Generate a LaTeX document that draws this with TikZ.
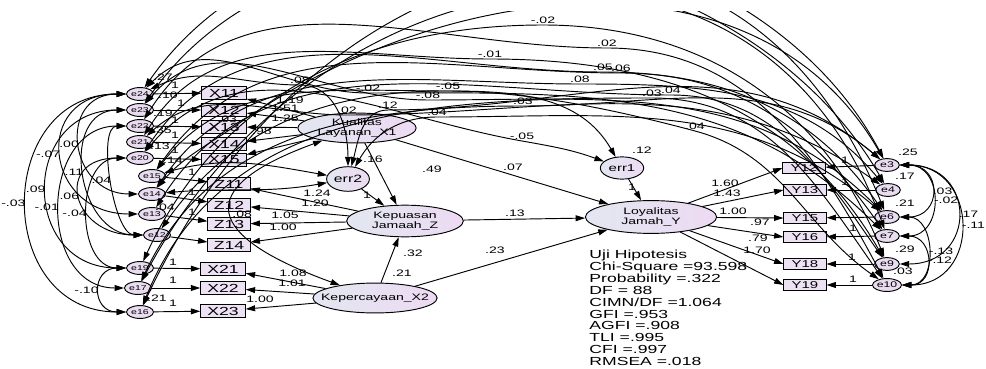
\documentclass[tikz,border=0pt]{standalone}
\usepackage{fontspec}
\setmainfont{Liberation Sans}[FakeStretch=1.5]
\usetikzlibrary{shapes.geometric,arrows.meta}
\definecolor{boxfill}{RGB}{236,226,244}
\definecolor{errfill}{RGB}{233,220,241}
\definecolor{latL}{RGB}{226,231,241}
\definecolor{latR}{RGB}{237,218,242}
\tikzset{
  obsbox/.style={draw, fill=boxfill, minimum width=38pt, minimum height=11pt, inner sep=0pt, font=\fontsize{10}{10}\selectfont},
  zbox/.style={obsbox, minimum width=36pt},
  ybox/.style={obsbox, minimum width=36pt, minimum height=10pt, font=\fontsize{8.5}{8.5}\selectfont},
  errl/.style={draw, ellipse, fill=errfill, minimum width=23pt, minimum height=11pt, inner sep=0pt, font=\fontsize{6}{6}\selectfont},
  errr/.style={errl, minimum width=21pt, font=\fontsize{7}{7}\selectfont},
  latent/.style={draw, ellipse, left color=latL, right color=latR, inner sep=0pt, align=center, font=\fontsize{8}{8.5}\selectfont},
  lbl/.style={inner sep=0.5pt, font=\fontsize{8}{8}\selectfont},
  reg/.style={->},
  cov/.style={<->}
}
\begin{document}
\begin{tikzpicture}[x=0.03cm, y=0.03cm, line width=0.8pt, >={Triangle[length=8pt,width=5pt]}]
\useasboundingbox (0,0) rectangle (986,-369);
\clip (0,-12) rectangle (986,-369);
% error terms, left
\node[errl] (e24) at (140,-94) {e24};
\node[errl] (e23) at (140,-110) {e23};
\node[errl] (e22) at (140,-126) {e22};
\node[errl] (e21) at (140,-142) {e21};
\node[errl] (e20) at (140,-158) {e20};
\node[errl] (e15) at (152,-176) {e15};
\node[errl] (e14) at (152,-194) {e14};
\node[errl] (e13) at (152,-214) {e13};
\node[errl] (e12) at (157,-235) {e12};
\node[errl] (e19) at (140,-268) {e19};
\node[errl] (e17) at (138,-288) {e17};
\node[errl] (e16) at (140,-312) {e16};
% indicators, left
\node[obsbox] (X11) at (224,-93) {X11};
\node[obsbox] (X12) at (224,-110) {X12};
\node[obsbox] (X13) at (224,-127) {X13};
\node[obsbox] (X14) at (224,-144) {X14};
\node[obsbox] (X15) at (224,-160) {X15};
\node[zbox] (Z11) at (229,-184) {Z11};
\node[zbox] (Z12) at (229,-205) {Z12};
\node[zbox] (Z13) at (229,-224) {Z13};
\node[zbox] (Z14) at (229,-245) {Z14};
\node[obsbox] (X21) at (223,-269) {X21};
\node[obsbox] (X22) at (223,-288) {X22};
\node[obsbox] (X23) at (223,-311) {X23};
% latent variables
\node[latent, minimum width=101pt, minimum height=25.5pt] (X1) at (357,-128) {\makebox[0pt]{Kualitas}\\\makebox[0pt]{Layanan\_X1}};
\node[latent, minimum width=36.5pt, minimum height=21pt, font=\fontsize{9}{9}\selectfont] (err2) at (348,-179) {err2};
\node[latent, minimum width=99.5pt, minimum height=27pt] (Z) at (405,-221) {\makebox[0pt]{Kepuasan}\\\makebox[0pt]{Jamaah\_Z}};
\node[latent, minimum width=106pt, minimum height=25.5pt] (X2) at (375,-298) {\makebox[0pt]{Kepercayaan\_X2}};
\node[latent, minimum width=37pt, minimum height=19pt, font=\fontsize{8.5}{8.5}\selectfont] (err1) at (622,-168) {err1};
\node[latent, minimum width=112pt, minimum height=28pt] (Y) at (651,-217) {\makebox[0pt]{Loyalitas}\\\makebox[0pt]{Jamah\_Y}};
% indicators and error terms, right
\node[ybox] (Y12) at (804,-168) {Y12};
\node[ybox] (Y13) at (805,-190) {Y13};
\node[ybox] (Y15) at (805,-218) {Y15};
\node[ybox] (Y16) at (805,-237) {Y16};
\node[ybox] (Y18) at (805,-264) {Y18};
\node[ybox] (Y19) at (805,-285) {Y19};
\node[errr] (e3) at (887,-165) {e3};
\node[errr] (e4) at (888,-190) {e4};
\node[errr] (e6) at (887,-217) {e6};
\node[errr] (e7) at (887,-236) {e7};
\node[errr] (e9) at (887,-264) {e9};
\node[errr] (e10) at (887,-285) {e10};
% fit
\node[anchor=north west, align=left, inner sep=0pt, font=\fontsize{10}{10.1}\selectfont] (fit) at (589,-250)
  {Uji Hipotesis\\Chi-Square =93.598\\Probability =.322\\DF = 88\\CIMN/DF =1.064\\GFI =.953\\AGFI =.908\\TLI =.995\\CFI =.997\\RMSEA =.018};
% measurement paths
\draw[reg] (e24) -- (X11);
\draw[reg] (e23) -- (X12);
\draw[reg] (e22) -- (X13);
\draw[reg] (e21) -- (X14);
\draw[reg] (e20) -- (X15);
\draw[reg] (e15) -- (Z11);
\draw[reg] (e14) -- (Z12);
\draw[reg] (e13) -- (Z13);
\draw[reg] (e12) -- (Z14);
\draw[reg] (e19) -- (X21);
\draw[reg] (e17) -- (X22);
\draw[reg] (e16) -- (X23);
\draw[reg] (X1) -- (X11);
\draw[reg] (X1) -- (X12);
\draw[reg] (X1) -- (X13);
\draw[reg] (X1) -- (X14);
\draw[reg] (X1) -- (X15);
\draw[reg] (Z) -- (Z11);
\draw[reg] (Z) -- (Z12);
\draw[reg] (Z) -- (Z13);
\draw[reg] (Z) -- (Z14);
\draw[reg] (X2) -- (X21);
\draw[reg] (X2) -- (X22);
\draw[reg] (X2) -- (X23);
\draw[reg] (Y) -- (Y12.west);
\draw[reg] (Y) -- (Y13.west);
\draw[reg] (Y) -- (Y15.west);
\draw[reg] (Y) -- (Y16.west);
\draw[reg] (Y) -- (Y18.west);
\draw[reg] (Y) -- (Y19.west);
\draw[reg] (e3) -- (Y12);
\draw[reg] (e4) -- (Y13);
\draw[reg] (e6) -- (Y15);
\draw[reg] (e7) -- (Y16);
\draw[reg] (e9) -- (Y18);
\draw[reg] (e10) -- (Y19);
% structural paths
\draw[reg] (X1) -- (Z);
\draw[reg] (X2) -- (Z);
\draw[reg] (X1) -- (Y);
\draw[reg] (Z) -- (Y);
\draw[reg] (X2) -- (Y);
\draw[reg] (err2) -- (Z);
\draw[reg] (err1) -- (Y);
% covariances over the top
\draw[cov] (e24) to[out=55,in=118] (e3);
\draw[cov] (e23) to[out=55,in=120] (e4);
\draw[cov] (e16) to[out=65,in=112,looseness=1.4] (e6);
\draw[cov] (e17) to[out=62,in=110,looseness=1.3] (e7);
\draw[cov] (e19) to[out=65,in=180] (543,-25) node[lbl,above] (c1) {-.02} to[out=0,in=112] (e9);
\draw[cov] (e22) to[out=58,in=180] (607,-48) node[lbl,above] (c2) {.02} to[out=0,in=118] (e10);
\draw[cov] (e21) to[out=58,in=180] (490,-59) node[lbl,above] (c3) {-.01} to[out=0,in=120] (e9);
\draw[cov] (e20) to[out=56,in=180] (603,-72) node[lbl,above] (c4) {.05} to[out=0,in=125] (e6);
\draw[cov] (e15) to[out=55,in=180] (621,-73) node[lbl,above] (c5) {.06} to[out=0,in=125] (e7);
\draw[cov] (e14) to[out=55,in=180] (580,-84) node[lbl,above] (c6) {.08} to[out=0,in=130] (e4);
\draw[cov] (e17) to[out=65,in=180] (523,-106) node[lbl,above] (c7) {.03} to[out=0,in=140] (e3);
\draw[cov] (e16) to[out=68,in=180] (652,-98) node[lbl,above] (c8) {.03} to[out=0,in=125] (e10);
\draw[cov] (e13) to[out=58,in=180] (671,-95) node[lbl,above] (c9) {.04} to[out=0,in=125] (e9);
\draw[cov] (e12) to[out=55,in=165] (695,-131) node[lbl,above] (c10) {.04} to[out=-15,in=145] (e10);
\draw[cov] (e20) to[out=50,in=170] (522,-141) node[lbl,above] (c11) {-.05} to[out=-10,in=160] (err1);
\draw[cov] (e15) to[out=52,in=180] (448,-91) node[lbl,above] (c12) {-.05} to[out=0,in=120] (err1);
\draw[cov] (e23) to[out=50,in=180] (428,-100) node[lbl,above] (c13) {-.08} to[out=0,in=135] (e6);
\draw[cov] (e24) to[out=45,in=180] (368,-93) node[lbl,above] (c14) {-.02} to[out=0,in=135] (e7);
\draw[cov] (e21) to[out=42,in=180] (347,-115) node[lbl,above] (c15) {.02} to[out=0,in=145] (e4);
\draw[cov] (e24) to[out=25,in=180] (300,-85) node[lbl,above] (c16) {.08} to[out=0,in=90] (err2);
\draw[cov] (err2) to[out=75,in=180] (388,-110) node[lbl,above] (c17) {.12} to[out=0,in=140] (e3);
\draw[cov] (err2) to[out=60,in=180] (437,-117) node[lbl,above] (c18) {.04} to[out=0,in=140] (e6);
\draw[cov] (e14) to[out=50,in=215] (238,-124) node[lbl,above left] (c19) {.03} to[out=35,in=120] (e3);
\draw[cov] (e15) to[out=15,in=170] (err2);
\draw[cov] (e14) to[out=5,in=190] (err2);
\draw[cov] (X1) to[out=200,in=160,looseness=2.5] node[lbl,pos=0.51,anchor=west] (c20) {.08} (X2);
% covariances on the left
\draw[cov] (e24) to[out=180,in=180,looseness=1.56] node[lbl,left] (l1) {-.03} (e16);
\draw[cov] (e23) to[out=180,in=180,looseness=1.72] node[lbl,left] (l2) {.09} (e19);
\draw[cov] (e22) to[out=180,in=180,looseness=1.37] node[lbl,left] (l3) {-.01} (e17);
\draw[cov] (e24) to[out=180,in=180,looseness=2.0] node[lbl,left] (l4) {-.07} (e13);
\draw[cov] (e24) to[out=180,in=180,looseness=1.77] node[lbl,left] (l5) {.00} (e14);
\draw[cov] (e23) to[out=180,in=180,looseness=1.36] node[lbl,left] (l6) {.11} (e12);
\draw[cov] (e22) to[out=180,in=180,looseness=0.69] node[lbl,left] (l7) {.04} (e12);
\draw[cov] (e20) to[out=180,in=180,looseness=2.35] node[lbl,left] (l8) {.06} (e12);
\draw[cov] (e20) to[out=180,in=180,looseness=1.19] node[lbl,left] (l9) {-.04} (e19);
\draw[cov] (e19) to[out=180,in=180,looseness=2.05] node[lbl,left] (l10) {-.10} (e16);
% covariances on the right
\draw[cov] (e3) to[out=0,in=0,looseness=2.1] node[lbl,right] (r1) {.03} (e6);
\draw[cov] (e3) to[out=0,in=0,looseness=1.6] node[lbl,right] (r2) {-.02} (e7);
\draw[cov] (e3) to[out=0,in=0,looseness=2.0] node[lbl,right] (r3) {.17} (e9);
\draw[cov] (e3) to[out=0,in=0,looseness=1.7] node[lbl,right] (r4) {-.11} (e10);
\draw[cov] (e6) to[out=0,in=0,looseness=1.35] node[lbl,right] (r5) {-.13} (e10);
\draw[cov] (e7) to[out=0,in=0,looseness=1.8] node[lbl,right] (r6) {-.12} (e10);
% variances
\node[lbl] (v24) at (163,-77) {.27};
\node[lbl] (v23) at (168,-95) {.10};
\node[lbl] (v22) at (163,-113) {.19};
\node[lbl] (v21) at (162,-130) {.35};
\node[lbl] (v20) at (160,-146) {.13};
\node[lbl] (v15) at (173,-160) {.14};
\node[lbl] (v13) at (165,-207) {.04};
\node[lbl] (v16) at (157,-298) {.21};
\node[lbl] (vX2) at (402,-273) {.21};
\node[lbl] (verr2) at (373,-159) {.16};
\node[lbl] (verr1) at (642,-150) {.12};
\node[lbl] (v3) at (908,-152) {.25};
\node[lbl] (v4) at (905,-176) {.17};
\node[lbl] (v6) at (905,-203) {.21};
\node[lbl] (v9) at (905,-249) {.29};
\node[lbl] (v10) at (903,-271) {.03};
% weights
\node[lbl] (w1) at (175,-85) {1};
\node[lbl] (w2) at (181,-103) {1};
\node[lbl] (w3) at (175,-120) {1};
\node[lbl] (w4) at (175,-135) {1};
\node[lbl] (w5) at (175,-150) {1};
\node[lbl] (w6) at (192,-172) {1};
\node[lbl] (w7) at (192,-192) {1};
\node[lbl] (w8) at (192,-212) {1};
\node[lbl] (w9) at (173,-262) {1};
\node[lbl] (w10) at (173,-280) {1};
\node[lbl] (w11) at (173,-303) {1};
\node[lbl] (w12) at (845,-160) {1};
\node[lbl] (w13) at (845,-182) {1};
\node[lbl] (w14) at (853,-228) {1};
\node[lbl] (w15) at (852,-257) {1};
\node[lbl] (w16) at (853,-279) {1};
\node[lbl] (w17) at (367,-195) {1};
\node[lbl] (w18) at (632,-187) {1};
\node[lbl] (k1) at (290,-100) {1.19};
\node[lbl] (k2) at (285,-108) {1.51};
\node[lbl] (k3) at (285,-118) {1.25};
\node[lbl] (k4) at (262,-131) {.98};
\node[lbl] (k5) at (317,-193) {1.24};
\node[lbl] (k6) at (315,-203) {1.20};
\node[lbl] (k7) at (285,-215) {1.05};
\node[lbl] (k8) at (283,-227) {1.00};
\node[lbl] (k9) at (293,-273) {1.08};
\node[lbl] (k10) at (292,-283) {1.01};
\node[lbl] (k11) at (260,-299) {1.00};
\node[lbl] (k12) at (725,-183) {1.60};
\node[lbl] (k13) at (727,-193) {1.43};
\node[lbl] (k14) at (733,-211) {1.00};
\node[lbl] (k15) at (760,-222) {.97};
\node[lbl] (k16) at (758,-238) {.79};
\node[lbl] (k17) at (757,-250) {1.70};
\node[lbl] (s1) at (432,-169) {.49};
\node[lbl] (s2) at (413,-253) {.32};
\node[lbl] (s3) at (515,-213) {.13};
\node[lbl] (s4) at (495,-250) {.23};
\node[lbl] (s5) at (513,-167) {.07};
\end{tikzpicture}
\end{document}
